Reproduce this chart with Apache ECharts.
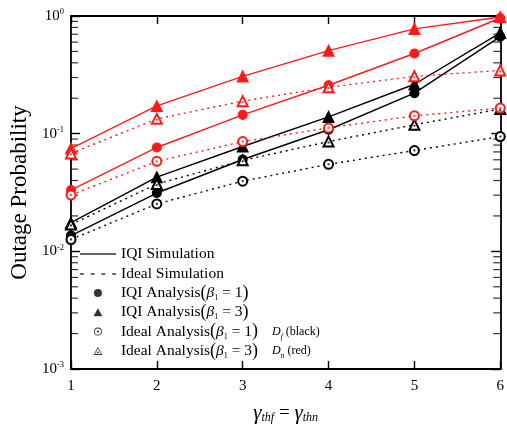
<!DOCTYPE html>
<html>
<head>
<meta charset="utf-8">
<script src="https://cdn.jsdelivr.net/npm/echarts@6/dist/echarts.min.js"></script>
<style>
  html, body { margin: 0; padding: 0; background: #fff; }
  #chart { width: 507px; height: 429px; }
</style>
</head>
<body>
<div id="chart"></div>
<script>
// Outage probability versus threshold (gamma_thf = gamma_thn)
const thresholds = [1, 2, 3, 4, 5, 6];

// Far user D_f (black)
const dfIqiBeta1   = [0.0136, 0.0313, 0.0603, 0.108, 0.221, 0.667];
const dfIqiBeta3   = [0.0175, 0.0427, 0.0778, 0.139, 0.263, 0.720];
const dfIdealBeta1 = [0.0126, 0.0253, 0.0395, 0.0549, 0.0719, 0.0944];
const dfIdealBeta3 = [0.0169, 0.0373, 0.0593, 0.0857, 0.119, 0.162];

// Near user D_n (red)
const dnIqiBeta1   = [0.0332, 0.0763, 0.1445, 0.258, 0.480, 0.962];
const dnIqiBeta3   = [0.0748, 0.172, 0.307, 0.508, 0.778, 0.981];
const dnIdealBeta1 = [0.0301, 0.0582, 0.0857, 0.112, 0.1417, 0.165];
const dnIdealBeta3 = [0.0679, 0.1336, 0.189, 0.248, 0.307, 0.345];

const yTickExponents = [0, -1, -2, -3];

// minor log ticks 2..9 x 10^k inside each decade
const minorTicks = [];
for (let k = -3; k < 0; k++) {
  for (let m = 2; m <= 9; m++) minorTicks.push(m * Math.pow(10, k));
}

const SERIF = '"Liberation Serif", "Times New Roman", serif';
const BLACK = '#000000';
const RED = '#ff1a1a';

const pairs = xs => ys => xs.map((x, i) => [x, ys[i]]);
const onX = pairs(thresholds);

// legend icon shapes
const solidIcon = 'path://M0,0 H36 V1.3 H0 Z';
const dashIcon = 'path://M0,0 h3.4 v1.3 h-3.4 Z M9.6,0 h3.4 v1.3 h-3.4 Z M19.2,0 h3.4 v1.3 h-3.4 Z M28.8,0 h3.4 v1.3 h-3.4 Z';
const triIcon = 'path://M0,-10 L10,8 L-10,8 Z';
const ringDot = 'path://M0,-10 A10,10 0 1,1 0,10 A10,10 0 1,1 0,-10 Z M0,-8 A8,8 0 1,0 0,8 A8,8 0 1,0 0,-8 Z M0,-2.8 A2.8,2.8 0 1,1 0,2.8 A2.8,2.8 0 1,1 0,-2.8 Z';
const triDot = 'path://M0,-10 L10,8 L-10,8 Z M0,-6.4 L-7.0,6.1 L7.0,6.1 Z M0,0.1 A2.2,2.2 0 1,1 0,4.5 A2.2,2.2 0 1,1 0,0.1 Z';

function curve(name, values, color, dotted, symbol, size) {
  return {
    name: name,
    type: 'line',
    data: onX(values),
    symbol: symbol,
    symbolSize: size,
    showSymbol: true,
    color: color,
    lineStyle: { color: color, width: 1.4, type: dotted ? [2, 4] : 'solid' },
    itemStyle: { color: color, borderColor: color, borderWidth: 1.1 },
    emphasis: { disabled: true },
    silent: true,
    z: 3
  };
}

function centreDots(values, color, offsetY) {
  return {
    type: 'scatter',
    data: onX(values),
    symbol: 'circle',
    symbolSize: 2.3,
    symbolOffset: [0, offsetY],
    itemStyle: { color: color },
    silent: true,
    z: 5
  };
}

// short inside ticks at the minor log values, on one vertical frame edge
function minorTickMarks(xEdge, dir) {
  return {
    type: 'scatter',
    data: minorTicks.map(v => [xEdge, v]),
    symbol: 'rect',
    symbolSize: [7, 1.2],
    symbolOffset: [dir * 3.5, 0],
    itemStyle: { color: BLACK },
    clip: false,
    silent: true,
    z: 2
  };
}

function legendSeries(name) {
  return { name: name, type: 'scatter', data: [], color: BLACK, itemStyle: { color: BLACK }, silent: true };
}

const legendText = {
  'IQI Simulation': 'IQI Simulation',
  'Ideal Simulation': 'Ideal Simulation',
  'IQI b1': 'IQI Analysis{p|(}{it|β}{sub|1}{t| = 1}{p|)}',
  'IQI b3': 'IQI Analysis{p|(}{it|β}{sub|1}{t| = 3}{p|)}',
  'Ideal b1': 'Ideal Analysis{p|(}{it|β}{sub|1}{t| = 1}{p|)}{gap|}{di|D}{dsub|f}{sm| (black)}',
  'Ideal b3': 'Ideal Analysis{p|(}{it|β}{sub|1}{t| = 3}{p|)}{gap|}{di|D}{dsub|n}{sm| (red)}'
};

const legendRich = {
  t: { fontFamily: SERIF, fontSize: 15.5, color: BLACK, lineHeight: 18 },
  p: { fontFamily: SERIF, fontSize: 18, color: BLACK, lineHeight: 18 },
  it: { fontFamily: SERIF, fontSize: 15.5, fontStyle: 'italic', color: BLACK, lineHeight: 18 },
  sub: { fontFamily: SERIF, fontSize: 8, color: BLACK, lineHeight: 8, verticalAlign: 'bottom' },
  gap: { width: 14 },
  di: { fontFamily: SERIF, fontSize: 12, fontStyle: 'italic', color: BLACK, lineHeight: 18 },
  dsub: { fontFamily: SERIF, fontSize: 7.5, fontStyle: 'italic', color: BLACK, lineHeight: 8, verticalAlign: 'bottom' },
  sm: { fontFamily: SERIF, fontSize: 12, color: BLACK, lineHeight: 18 }
};

const legendCommon = {
  orient: 'vertical',
  itemWidth: 36,
  symbolKeepAspect: true,
  selectedMode: false,
  formatter: name => legendText[name],
  textStyle: { fontFamily: SERIF, fontSize: 15.5, color: BLACK, lineHeight: 18, rich: legendRich }
};

const legendItem = (name, icon) => ({ name: name, icon: icon, itemStyle: { color: BLACK } });

const axisFont = { fontFamily: SERIF, fontSize: 15, color: BLACK };

const chart = echarts.init(document.getElementById('chart'), null, { renderer: 'canvas' });

chart.setOption({
  backgroundColor: '#ffffff',
  animation: false,
  grid: { left: 68, right: 6, top: 16, bottom: 56 },
  xAxis: [
    {
      type: 'value', min: 1, max: 6, interval: 1, position: 'bottom',
      axisLine: { show: true, lineStyle: { color: BLACK, width: 1.8 } },
      axisTick: { show: true, inside: true, length: 8, lineStyle: { color: BLACK, width: 1.4 } },
      axisLabel: Object.assign({ margin: 10 }, axisFont),
      splitLine: { show: false },
      name: '{g|γ}{s|thf}{e| = }{g|γ}{s|thn}',
      nameLocation: 'middle',
      nameGap: 33,
      nameTextStyle: {
        rich: {
          g: { fontFamily: SERIF, fontSize: 21, fontStyle: 'italic', color: BLACK, lineHeight: 22 },
          s: { fontFamily: SERIF, fontSize: 12, fontStyle: 'italic', color: BLACK, lineHeight: 10, verticalAlign: 'bottom' },
          e: { fontFamily: SERIF, fontSize: 19, color: BLACK, lineHeight: 22 }
        }
      }
    },
    {
      type: 'value', min: 1, max: 6, interval: 1, position: 'top',
      axisLine: { show: true, lineStyle: { color: BLACK, width: 1.8 } },
      axisTick: { show: true, inside: true, length: 8, lineStyle: { color: BLACK, width: 1.4 } },
      axisLabel: { show: false },
      splitLine: { show: false }
    }
  ],
  yAxis: [
    {
      type: 'log', logBase: 10, min: 0.001, max: 1, position: 'left',
      axisLine: { show: true, lineStyle: { color: BLACK, width: 1.8 } },
      axisTick: { show: true, inside: true, length: 9, lineStyle: { color: BLACK, width: 1.4 } },
      axisLabel: {
        margin: 7,
        formatter: v => {
          const e = Math.round(Math.log10(v));
          return yTickExponents.includes(e) ? '{b|10}{sup|' + (e === 0 ? '0' : e) + '}' : '';
        },
        rich: {
          b: { fontFamily: SERIF, fontSize: 15, color: BLACK, lineHeight: 17 },
          sup: { fontFamily: SERIF, fontSize: 8.5, color: BLACK, lineHeight: 9, verticalAlign: 'top' }
        }
      },
      splitLine: { show: false },
      name: 'Outage Probability',
      nameLocation: 'middle',
      nameGap: 27,
      nameTextStyle: { fontFamily: SERIF, fontSize: 23, color: BLACK }
    },
    {
      type: 'log', logBase: 10, min: 0.001, max: 1, position: 'right',
      axisLine: { show: true, lineStyle: { color: BLACK, width: 1.8 } },
      axisTick: { show: true, inside: true, length: 9, lineStyle: { color: BLACK, width: 1.4 } },
      axisLabel: { show: false },
      splitLine: { show: false }
    }
  ],
  legend: [
    Object.assign({}, legendCommon, {
      left: 75, top: 240, itemHeight: 14, itemGap: 2,
      data: [legendItem('IQI Simulation', solidIcon), legendItem('Ideal Simulation', dashIcon)]
    }),
    // the marker icons sit centred in their 36px slot; the box is placed by its visible edge
    Object.assign({}, legendCommon, {
      left: 88.5, top: 279, itemHeight: 8, itemGap: 1.3,
      data: [
        legendItem('IQI b1', 'circle'),
        legendItem('IQI b3', triIcon),
        legendItem('Ideal b1', ringDot),
        legendItem('Ideal b3', triDot)
      ]
    })
  ],
  series: [
    minorTickMarks(1, 1),
    minorTickMarks(6, -1),

    // D_f curves (black)
    curve('Df IQI beta1', dfIqiBeta1, BLACK, false, 'circle', 9),
    curve('Df IQI beta3', dfIqiBeta3, BLACK, false, 'triangle', 11),
    curve('Df Ideal beta1', dfIdealBeta1, BLACK, true, 'emptyCircle', 9),
    curve('Df Ideal beta3', dfIdealBeta3, BLACK, true, 'emptyTriangle', 10),

    // D_n curves (red)
    curve('Dn IQI beta1', dnIqiBeta1, RED, false, 'circle', 9),
    curve('Dn IQI beta3', dnIqiBeta3, RED, false, 'triangle', 11),
    curve('Dn Ideal beta1', dnIdealBeta1, RED, true, 'emptyCircle', 9),
    curve('Dn Ideal beta3', dnIdealBeta3, RED, true, 'emptyTriangle', 10),

    // centre dots of the hollow markers
    centreDots(dfIdealBeta1, BLACK, 0),
    centreDots(dfIdealBeta3, BLACK, 1),
    centreDots(dnIdealBeta1, RED, 0),
    centreDots(dnIdealBeta3, RED, 1),

    // legend entries
    legendSeries('IQI Simulation'),
    legendSeries('Ideal Simulation'),
    legendSeries('IQI b1'),
    legendSeries('IQI b3'),
    legendSeries('Ideal b1'),
    legendSeries('Ideal b3')
  ]
});
</script>
</body>
</html>
